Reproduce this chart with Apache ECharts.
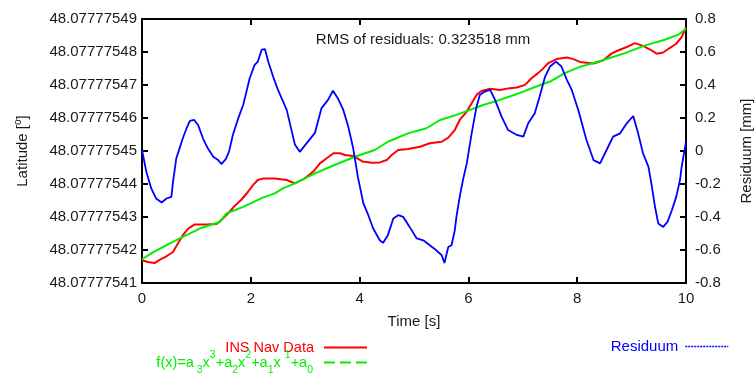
<!DOCTYPE html>
<html><head><meta charset="utf-8">
<script src="https://cdn.jsdelivr.net/npm/echarts@6/dist/echarts.min.js"></script>
<style>html,body{margin:0;padding:0;background:#fff}#c{width:756px;height:374px}</style>
</head><body><div id="c"></div>
<script>
// Latitude values are stored as (latitude - 48.0777754°) in units of 1e-8 °
const latTickLabels = ['48.07777541','48.07777542','48.07777543','48.07777544','48.07777545','48.07777546','48.07777547','48.07777548','48.07777549'];

const insTime = [0,0.11,0.23,0.33,0.45,0.57,0.66,0.75,0.85,0.97,1.18,1.37,1.46,1.58,1.70,1.83,1.95,2.04,2.13,2.23,2.44,2.66,2.81,2.97,3.16,3.27,3.37,3.52,3.64,3.73,3.88,4.05,4.23,4.37,4.50,4.59,4.71,4.89,5.11,5.29,5.51,5.63,5.75,5.84,5.97,6.06,6.15,6.24,6.40,6.58,6.76,6.89,7.04,7.16,7.28,7.38,7.47,7.62,7.81,7.93,8.05,8.30,8.48,8.63,8.75,8.91,9.06,9.21,9.34,9.46,9.58,9.70,9.82,9.92,10];
const insLat = [1.69,1.635,1.605,1.71,1.81,1.94,2.195,2.45,2.65,2.775,2.775,2.79,2.905,3.105,3.33,3.53,3.765,3.965,4.12,4.17,4.17,4.12,4.02,4.145,4.395,4.625,4.75,4.93,4.93,4.88,4.85,4.685,4.645,4.655,4.725,4.88,5.03,5.06,5.13,5.235,5.28,5.405,5.635,5.94,6.195,6.45,6.70,6.82,6.885,6.85,6.905,6.925,7.005,7.205,7.36,7.51,7.665,7.785,7.835,7.785,7.70,7.65,7.75,7.95,8.045,8.15,8.27,8.185,8.075,7.95,7.985,8.12,8.25,8.45,8.75];

const fitTime = [0,0.2,0.45,0.75,1.06,1.43,1.55,1.86,2.23,2.44,2.59,2.81,3.18,3.54,3.91,4.28,4.52,4.89,5.23,5.48,5.78,6.03,6.27,6.52,6.76,7.01,7.25,7.50,7.77,8.05,8.51,8.88,9.25,9.61,9.86,10];
const fitLat = [1.72,1.93,2.145,2.395,2.65,2.85,3.105,3.305,3.595,3.715,3.865,4.02,4.32,4.575,4.825,5.03,5.28,5.535,5.69,5.94,6.095,6.245,6.395,6.52,6.65,6.80,6.955,7.105,7.36,7.55,7.775,7.965,8.20,8.37,8.525,8.70];

const resTime = [0,0.08,0.17,0.26,0.36,0.45,0.54,0.57,0.63,0.69,0.75,0.82,0.88,0.96,1.03,1.12,1.21,1.31,1.40,1.46,1.54,1.60,1.67,1.77,1.86,1.92,1.98,2.07,2.13,2.20,2.26,2.32,2.41,2.50,2.66,2.81,2.90,3.02,3.18,3.30,3.42,3.51,3.60,3.70,3.79,3.88,3.97,4.07,4.16,4.25,4.37,4.43,4.52,4.62,4.71,4.80,4.92,5.05,5.17,5.29,5.41,5.51,5.56,5.63,5.69,5.75,5.78,5.84,5.90,5.97,6.06,6.15,6.21,6.30,6.40,6.49,6.61,6.73,6.89,7.01,7.10,7.22,7.31,7.41,7.50,7.61,7.71,7.81,7.90,8.02,8.17,8.30,8.42,8.54,8.66,8.79,8.91,9.03,9.12,9.21,9.31,9.37,9.43,9.49,9.58,9.66,9.74,9.82,9.89,9.92,10];
const resMm = [0.006,-0.126,-0.227,-0.288,-0.312,-0.288,-0.278,-0.187,-0.045,0.016,0.077,0.138,0.182,0.188,0.158,0.077,0.016,-0.035,-0.055,-0.079,-0.049,-0.004,0.097,0.199,0.279,0.36,0.441,0.522,0.542,0.614,0.618,0.542,0.451,0.37,0.249,0.04,-0.005,0.045,0.11,0.26,0.31,0.365,0.32,0.249,0.15,0.02,-0.16,-0.318,-0.389,-0.47,-0.541,-0.557,-0.51,-0.409,-0.389,-0.399,-0.46,-0.53,-0.541,-0.571,-0.602,-0.632,-0.679,-0.582,-0.571,-0.48,-0.399,-0.278,-0.176,-0.075,0.107,0.269,0.34,0.36,0.37,0.31,0.208,0.127,0.097,0.087,0.168,0.229,0.33,0.451,0.512,0.542,0.512,0.431,0.37,0.249,0.067,-0.055,-0.075,0.006,0.087,0.107,0.168,0.212,0.107,-0.014,-0.096,-0.21,-0.338,-0.439,-0.46,-0.43,-0.359,-0.278,-0.176,-0.096,0.056];

const seriesNames = ['INS Nav Data', 'f(x)=a3x3+a2x2+a1x1+a0', 'Residuum'];
const rmsText = 'RMS of residuals: 0.323518 mm';

const zip = (a, b) => a.map((v, i) => [v, b[i]]);
const FONT = "'Liberation Sans', Arial, sans-serif";
const TXT = '#1a1a1a';
const RED = '#ff0000', GREEN = '#00ee00', BLUE = '#0000ff';
const hidden = {color: 'rgba(0,0,0,0)', opacity: 0, borderWidth: 0};

const axisLineStyle = {onZero: false, lineStyle: {color: '#000', width: 2}};
const tickStyle = {inside: true, length: 6, lineStyle: {color: '#000', width: 2}};

const legendBase = {
  orient: 'horizontal', align: 'right', itemWidth: 43, itemHeight: 14, padding: 0,
  itemStyle: hidden
};

const chart = echarts.init(document.getElementById('c'), null, {renderer: 'canvas'});
chart.setOption({
  animation: false,
  backgroundColor: '#fff',
  textStyle: {fontFamily: FONT},
  title: {
    text: rmsText, left: 418, top: 27, textAlign: 'center',
    textStyle: {fontSize: 15, fontWeight: 'normal', color: TXT, fontFamily: FONT}
  },
  grid: {left: 142, right: 70, top: 19, bottom: 91, containLabel: false, outerBoundsMode: 'none'},
  xAxis: [{
    type: 'value', min: 0, max: 10, interval: 2, position: 'bottom',
    name: 'Time [s]', nameLocation: 'middle', nameGap: 31,
    nameTextStyle: {fontSize: 15, color: TXT, fontFamily: FONT},
    axisLine: axisLineStyle, axisTick: tickStyle,
    axisLabel: {fontSize: 15, color: TXT, margin: 8, fontFamily: FONT},
    splitLine: {show: false}
  }, {
    type: 'value', min: 0, max: 10, interval: 2, position: 'top',
    axisLine: axisLineStyle, axisTick: tickStyle,
    axisLabel: {show: false}, splitLine: {show: false}
  }],
  yAxis: [{
    type: 'value', min: 1, max: 9, interval: 1, position: 'left',
    name: '{a|Latitude [}{s|o}{a|]}', nameLocation: 'middle', nameGap: 109, nameRotate: 90,
    nameTextStyle: {fontSize: 15, color: TXT, fontFamily: FONT,
      rich: {a: {fontSize: 15, color: TXT, fontFamily: FONT, lineHeight: 20, verticalAlign: 'middle'},
             s: {fontSize: 10, color: TXT, fontFamily: FONT, lineHeight: 10, verticalAlign: 'top'}}},
    axisLine: axisLineStyle, axisTick: tickStyle,
    axisLabel: {fontSize: 15, color: TXT, margin: 5, fontFamily: FONT,
      formatter: v => latTickLabels[Math.round(v) - 1]},
    splitLine: {show: false}
  }, {
    type: 'value', min: -0.8, max: 0.8, interval: 0.2, position: 'right',
    name: 'Residuum [mm]', nameLocation: 'middle', nameGap: 53, nameRotate: 90,
    nameTextStyle: {fontSize: 15, color: TXT, fontFamily: FONT},
    axisLine: axisLineStyle, axisTick: tickStyle,
    axisLabel: {fontSize: 15, color: TXT, margin: 9, fontFamily: FONT,
      formatter: v => String(Math.round(v * 10) / 10)},
    splitLine: {show: false}
  }],
  legend: [Object.assign({}, legendBase, {
    right: 388, top: 340,
    data: [{name: seriesNames[0], itemStyle: hidden, lineStyle: {width: 2}}],
    textStyle: {fontSize: 14.5, fontFamily: FONT, color: RED, padding: [2, 5, 0, 0]}
  }), Object.assign({}, legendBase, {
    right: 388, top: 349.5,
    data: [{name: seriesNames[1], itemStyle: hidden, lineStyle: {type: [11, 5], width: 2}}],
    formatter: () => '{n|f(x)=a}{sb| 3}{n|x}{sp|3}{n|+a}{sb|2}{n|x}{sp|2}{n|+a}{sb|1}{n|x }{sp|1}{n|+a}{sb|0}',
    textStyle: {fontSize: 14.5, fontFamily: FONT, color: GREEN, padding: [0, 6, 0, 0],
      rich: {
        n: {fontSize: 14.5, color: GREEN, fontFamily: FONT, lineHeight: 26, verticalAlign: 'middle'},
        sb: {fontSize: 10.5, color: GREEN, fontFamily: FONT, lineHeight: 11, verticalAlign: 'bottom'},
        sp: {fontSize: 10.5, color: GREEN, fontFamily: FONT, lineHeight: 11, verticalAlign: 'top'}
      }}
  }), Object.assign({}, legendBase, {
    right: 27, top: 339,
    data: [{name: seriesNames[2], itemStyle: hidden, lineStyle: {type: [2, 1], width: 1.5}}],
    textStyle: {fontSize: 15, fontFamily: FONT, color: BLUE, padding: [0, 2, 0, 0]}
  })],
  series: [{
    name: seriesNames[0], type: 'line', xAxisIndex: 0, yAxisIndex: 0,
    data: zip(insTime, insLat), showSymbol: false, symbol: 'none',
    lineStyle: {color: RED, width: 2}, itemStyle: {color: RED}
  }, {
    name: seriesNames[1], type: 'line', xAxisIndex: 0, yAxisIndex: 0,
    data: zip(fitTime, fitLat), showSymbol: false, symbol: 'none',
    lineStyle: {color: GREEN, width: 2}, itemStyle: {color: GREEN}
  }, {
    name: seriesNames[2], type: 'line', xAxisIndex: 0, yAxisIndex: 1,
    data: zip(resTime, resMm), showSymbol: false, symbol: 'none',
    lineStyle: {color: BLUE, width: 1.8}, itemStyle: {color: BLUE}
  }]
});
</script>
</body></html>
